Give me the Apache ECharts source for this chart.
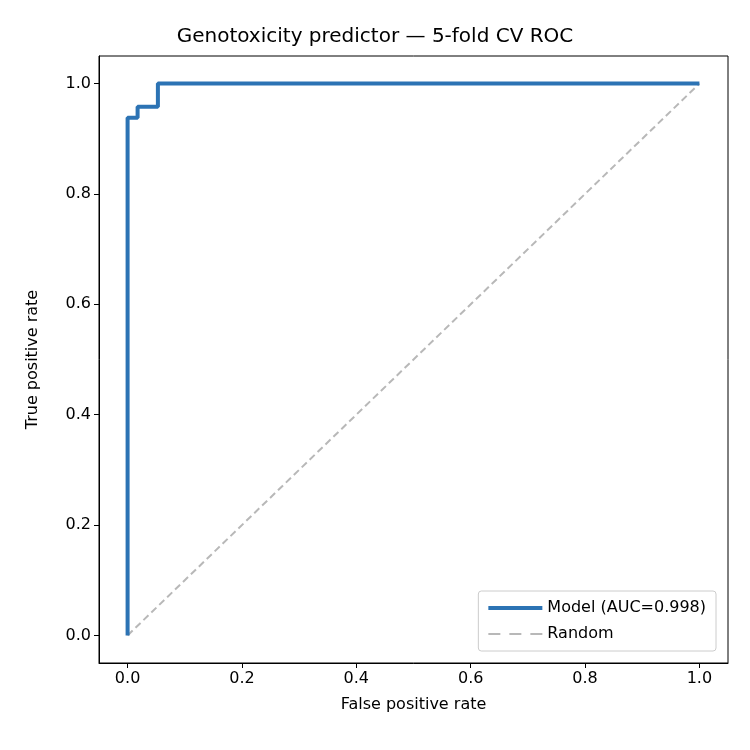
<!DOCTYPE html>
<html><head><meta charset="utf-8">
<script src="https://cdn.jsdelivr.net/npm/echarts@6/dist/echarts.min.js"></script>
<style>html,body{margin:0;padding:0;background:#fff}#c{width:750px;height:750px}</style>
</head><body><div id="c"></div>
<script>
const fpr = [0, 0, 0.0175, 0.0175, 0.053, 0.053, 1];
const tpr = [0, 0.938, 0.938, 0.958, 0.958, 1, 1];
const randX = [0, 1];
const randY = [0, 1];
const ticks = [0, 0.2, 0.4, 0.6, 0.8, 1.0];
const font = 'DejaVu Sans';
const chart = echarts.init(document.getElementById('c'));
const axisCommon = {
  splitLine: {show: false},
  axisLine: {show: true, onZero: false, lineStyle: {color: '#000'}},
  axisTick: {show: true, customValues: ticks, length: 5, lineStyle: {color: '#000'}},
  axisLabel: {customValues: ticks, color: '#000', fontFamily: font, fontSize: 16, formatter: v => v.toFixed(1)},
  nameLocation: 'middle',
  nameTextStyle: {color: '#000', fontFamily: font, fontSize: 16}
};
chart.setOption({
  animation: false,
  title: {text: 'Genotoxicity predictor — 5-fold CV ROC', left: 'center', top: 22,
    textStyle: {fontFamily: font, fontSize: 20, fontWeight: 'normal', color: '#000'}},
  grid: {left: 99, right: 22, top: 56, bottom: 87, show: true, borderColor: '#000', borderWidth: 1},
  xAxis: Object.assign({}, axisCommon, {type: 'value', min: -0.05, max: 1.05, name: 'False positive rate', nameGap: 34}),
  yAxis: Object.assign({}, axisCommon, {type: 'value', min: -0.05, max: 1.05, name: 'True positive rate', nameGap: 58}),
  legend: {right: 34, bottom: 99, orient: 'vertical', itemWidth: 54, itemHeight: 14, itemGap: 10,
    backgroundColor: '#fff', borderColor: '#ccc', borderWidth: 1, borderRadius: 3, padding: [9, 10],
    textStyle: {fontFamily: font, fontSize: 16, color: '#000'},
    data: [{name: 'Model (AUC=0.998)', icon: 'path://M0,6L54,6L54,10L0,10Z'}, {name: 'Random', icon: 'path://M0,7L12,7L12,9L0,9ZM21,7L33,7L33,9L21,9ZM42,7L54,7L54,9L42,9Z'}]},
  series: [
    {name: 'Random', type: 'line', data: randX.map((x, i) => [x, randY[i]]), symbol: 'none',
     lineStyle: {color: '#b8b8b8', width: 2, type: [7, 4]}, itemStyle: {color: '#b8b8b8'}},
    {name: 'Model (AUC=0.998)', type: 'line', data: fpr.map((x, i) => [x, tpr[i]]), symbol: 'none',
     lineStyle: {color: '#2c73b4', width: 4}, itemStyle: {color: '#2c73b4'}}
  ]
});
</script></body></html>
